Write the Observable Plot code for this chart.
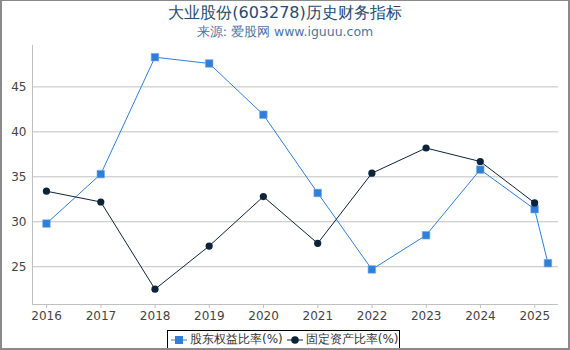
<!DOCTYPE html>
<html>
<head>
<meta charset="utf-8">
<script src="https://cdn.jsdelivr.net/npm/d3@7"></script>
<script src="https://cdn.jsdelivr.net/npm/@observablehq/plot@0.6"></script>
<style>
  html, body { margin: 0; padding: 0; background: #fff; }
  body { font-family: "DejaVu Sans", sans-serif; }
  #wrap { position: relative; width: 570px; height: 350px; overflow: hidden; background: #fff; }
  #frame { position: absolute; left: 0; top: 0; width: 570px; height: 350px; box-sizing: border-box;
           border: 2px solid #8a8a8a; border-top-width: 1px; pointer-events: none; }
  #title { position: absolute; left: 0; width: 570px; top: 3px; text-align: center; font-size: 16px; color: #274b6d; line-height: 20px; }
  #subtitle { position: absolute; left: 0; width: 570px; top: 23px; text-align: center; font-size: 12.5px; color: #4d759e; line-height: 18px; }
  #chart { position: absolute; left: 0; top: 40px; }
  #legend { position: absolute; left: 167px; top: 330px; width: 233px; height: 19px; border: 1px solid #000;
            font-size: 12px; color: #333; display: flex; align-items: center; box-sizing: border-box; padding-left: 3px; }
  #legend .item { display: flex; align-items: center; margin-right: 4px; white-space: nowrap; }
  #legend svg { margin-right: 3px; }
</style>
</head>
<body>
<div id="wrap">
  <div id="title"></div>
  <div id="subtitle"></div>
  <div id="chart"></div>
  <div id="legend"></div>
  <div id="frame"></div>
</div>
<script>
const titleText = "大业股份(603278)历史财务指标";
const subtitleText = "来源: 爱股网 www.iguuu.com";
const reportDates = ["2015-12-31","2016-12-31","2017-12-31","2018-12-31","2019-12-31","2020-12-31","2021-12-31","2022-12-31","2023-12-31","2024-12-31","2025-03-31"];
const equityRatio = [29.8, 35.3, 48.3, 47.6, 41.9, 33.2, 24.7, 28.5, 35.8, 31.4, 25.4];
const fixedAssetRatio = [33.4, 32.2, 22.5, 27.3, 32.8, 27.6, 35.4, 38.2, 36.7, 32.1, null];
const seriesNames = ["股东权益比率(%)", "固定资产比率(%)"];
const seriesColors = ["#2f7ed8", "#0d233a"];
const yTicks = [25, 30, 35, 40, 45];
const xTickYears = [2016, 2017, 2018, 2019, 2020, 2021, 2022, 2023, 2024, 2025];
const xDomain = [new Date("2015-09-28"), new Date("2025-06-10")];
const yDomain = [20.8, 49.6];

document.getElementById("title").textContent = titleText;
document.getElementById("subtitle").textContent = subtitleText;

const rows = [];
reportDates.forEach((d, i) => {
  rows.push({date: new Date(d), value: equityRatio[i], series: seriesNames[0]});
  if (fixedAssetRatio[i] != null) rows.push({date: new Date(d), value: fixedAssetRatio[i], series: seriesNames[1]});
});
const s0 = rows.filter(r => r.series === seriesNames[0]);
const s1 = rows.filter(r => r.series === seriesNames[1]);
const xTicks = xTickYears.map(y => new Date(Date.UTC(y, 0, 1)));

const chart = Plot.plot({
  width: 570,
  height: 290,
  marginTop: 5,
  marginBottom: 26,
  marginLeft: 32,
  marginRight: 12,
  style: {fontFamily: "DejaVu Sans, sans-serif", fontSize: "12px", color: "#444", background: "transparent"},
  x: {type: "utc", domain: xDomain},
  y: {domain: yDomain},
  marks: [
    Plot.ruleY(yTicks, {stroke: "#c0c0c0", strokeWidth: 1}),
    Plot.ruleX([xDomain[0]], {stroke: "#c0c0c0"}),
    Plot.ruleY([yDomain[0]], {stroke: "#c0c0c0"}),
    Plot.axisY({ticks: yTicks, tickSize: 0, tickPadding: 6, fontSize: 12, fill: "#444", label: null}),
    Plot.axisX({ticks: xTicks, tickSize: 4, tickPadding: 3, tickFormat: d3.utcFormat("%Y"), stroke: "#c0c0c0", fontSize: 12, fill: "#444", label: null}),
    Plot.line(s0, {x: "date", y: "value", stroke: seriesColors[0], strokeWidth: 1}),
    Plot.line(s1, {x: "date", y: "value", stroke: seriesColors[1], strokeWidth: 1}),
    Plot.dot(s0, {x: "date", y: "value", symbol: "square", r: 4.3, fill: seriesColors[0], stroke: "#7fb0ea", strokeWidth: 0.6}),
    Plot.dot(s1, {x: "date", y: "value", symbol: "circle", r: 3.6, fill: seriesColors[1], stroke: "none"})
  ]
});
document.getElementById("chart").appendChild(chart);

const legend = document.getElementById("legend");
seriesNames.forEach((name, i) => {
  const item = document.createElement("div");
  item.className = "item";
  const sw = i === 0
    ? `<svg width="16" height="12"><line x1="0" y1="6" x2="16" y2="6" stroke="${seriesColors[i]}" stroke-width="1"/><rect x="4" y="2" width="8" height="8" fill="${seriesColors[i]}"/></svg>`
    : `<svg width="16" height="12"><line x1="0" y1="6" x2="16" y2="6" stroke="${seriesColors[i]}" stroke-width="1"/><circle cx="8" cy="6" r="3.8" fill="${seriesColors[i]}"/></svg>`;
  item.innerHTML = sw + `<span>${name}</span>`;
  legend.appendChild(item);
});
</script>
</body>
</html>
